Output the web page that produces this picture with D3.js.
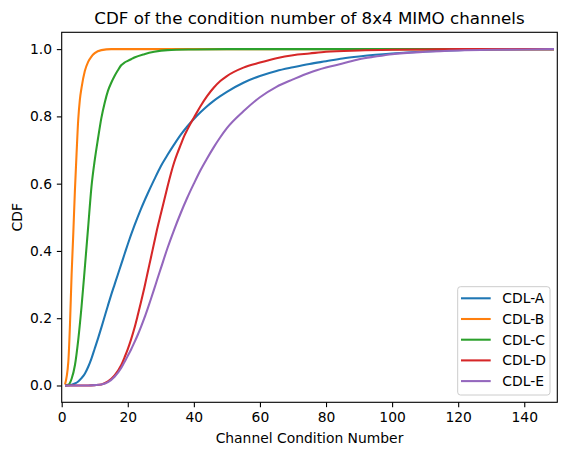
<!DOCTYPE html>
<html>
<head>
<meta charset="utf-8">
<script src="https://cdn.jsdelivr.net/npm/d3@7"></script>
<style>
  html, body { margin: 0; padding: 0; background: #fff; }
  svg { display: block; font-family: "DejaVu Sans", sans-serif; }
</style>
</head>
<body>
<svg id="chart" width="567" height="455"></svg>
<script>
// ---- Data ----
const seriesNames = ["CDL-A", "CDL-B", "CDL-C", "CDL-D", "CDL-E"];
const seriesColors = ["#1f77b4", "#ff7f0e", "#2ca02c", "#d62728", "#9467bd"];

const cdlA_x = [1,3,4,5,6,7,8,9,10,11,12,13,14,15,16,17,18,19,20,22,24,26,28,30,32,34,36,38,40,42,44,46,48,50,55,60,65,70,75,80,85,90,95,100,110,120,130,140,149];
const cdlA_y = [0,0.002,0.006,0.012,0.022,0.035,0.055,0.08,0.11,0.14,0.172,0.205,0.238,0.27,0.30,0.33,0.36,0.39,0.42,0.475,0.525,0.57,0.612,0.652,0.685,0.716,0.745,0.77,0.792,0.812,0.83,0.846,0.86,0.873,0.9,0.92,0.935,0.946,0.956,0.964,0.972,0.978,0.983,0.987,0.993,0.997,0.999,1.0,1.0];

const cdlB_x = [1,2,2.5,3,3.5,4,4.5,5,5.5,6,7,8,9,10,12,15,20,149];
const cdlB_y = [0.003,0.07,0.18,0.33,0.45,0.58,0.69,0.79,0.85,0.885,0.935,0.962,0.978,0.988,0.997,1.0,1.0,1.0];

const cdlC_x = [1,2,3,4,5,6,7,8,9,10,11,12,13,14,15,16,17,18,19,20,21,22,25,28,32,40,50,149];
const cdlC_y = [0,0.002,0.02,0.06,0.135,0.234,0.35,0.47,0.59,0.67,0.735,0.795,0.84,0.876,0.9,0.92,0.937,0.952,0.96,0.965,0.97,0.975,0.985,0.992,0.997,0.999,1.0,1.0];

const cdlD_x = [1,8,10,12,14,16,18,19,20,21,22,23,24,25,26,27,28,29,30,31,32,33,34,35,36,37,38,39,40,42,44,46,48,50,55,60,65,70,75,80,90,100,110,120,149];
const cdlD_y = [0,0,0.001,0.003,0.012,0.03,0.06,0.083,0.108,0.137,0.17,0.208,0.248,0.29,0.335,0.38,0.425,0.47,0.51,0.55,0.59,0.628,0.662,0.69,0.715,0.74,0.76,0.779,0.796,0.83,0.86,0.885,0.905,0.92,0.945,0.96,0.973,0.982,0.987,0.992,0.996,0.998,0.999,1.0,1.0];

const cdlE_x = [1,8,10,12,14,16,18,19,20,21,22,23,24,25,26,27,28,29,30,32,34,36,38,40,42,44,46,48,50,55,60,65,70,75,80,85,90,95,100,110,120,130,140,149];
const cdlE_y = [0,0,0.001,0.003,0.01,0.026,0.052,0.07,0.088,0.107,0.128,0.15,0.174,0.2,0.228,0.257,0.287,0.318,0.348,0.408,0.462,0.512,0.558,0.6,0.64,0.675,0.708,0.738,0.765,0.815,0.857,0.888,0.91,0.93,0.945,0.957,0.97,0.978,0.985,0.992,0.996,0.998,0.999,1.0];

const xTicks = [0, 20, 40, 60, 80, 100, 120, 140];
const yTicks = [0.0, 0.2, 0.4, 0.6, 0.8, 1.0];
const titleText = "CDF of the condition number of 8x4 MIMO channels";
const xLabelText = "Channel Condition Number";
const yLabelText = "CDF";

// ---- Build series ----
const xs = [cdlA_x, cdlB_x, cdlC_x, cdlD_x, cdlE_x];
const ys = [cdlA_y, cdlB_y, cdlC_y, cdlD_y, cdlE_y];
const series = seriesNames.map((name, i) => ({
  name, color: seriesColors[i],
  points: xs[i].map((x, j) => ({ x, y: ys[i][j] }))
}));

// ---- Layout ----
const L = 61.7, R = 557.3, T = 32.3, B = 402.3;
const fs = 13.89;
const svg = d3.select("#chart");

const x = d3.scaleLinear().domain([0, 150]).range([L, R]);
const y = d3.scaleLinear().domain([-0.05, 1.05]).range([B, T]);

svg.append("defs").append("clipPath").attr("id", "clip")
  .append("rect").attr("x", L).attr("y", T).attr("width", R - L).attr("height", B - T);

// lines
const line = d3.line().x(d => x(d.x)).y(d => y(d.y)).curve(d3.curveMonotoneX);
const g = svg.append("g").attr("clip-path", "url(#clip)");
series.forEach(s => {
  g.append("path").datum(s.points)
    .attr("d", line)
    .attr("fill", "none")
    .attr("stroke", s.color)
    .attr("stroke-width", 2.08)
    .attr("stroke-linejoin", "round")
    .attr("stroke-linecap", "butt");
});

// axes
const xAxis = d3.axisBottom(x).tickValues(xTicks).tickFormat(d3.format("d"))
  .tickSize(4.86).tickPadding(4.86);
const yAxis = d3.axisLeft(y).tickValues(yTicks).tickFormat(d3.format(".1f"))
  .tickSize(4.86).tickPadding(4.86);

const gx = svg.append("g").attr("transform", `translate(0,${B})`).call(xAxis);
const gy = svg.append("g").attr("transform", `translate(${L},0)`).call(yAxis);
[gx, gy].forEach(a => {
  a.select(".domain").remove();
  a.selectAll(".tick line").attr("stroke", "#000").attr("stroke-width", 1.1);
  a.selectAll(".tick text").attr("fill", "#000")
    .style("font-family", "DejaVu Sans").style("font-size", fs + "px");
});

// frame (spines)
svg.append("rect").attr("x", L).attr("y", T).attr("width", R - L).attr("height", B - T)
  .attr("fill", "none").attr("stroke", "#000").attr("stroke-width", 1.1);

// title and labels
svg.append("text").attr("x", (L + R) / 2).attr("y", 23.5)
  .attr("text-anchor", "middle").style("font-size", "16.67px").attr("fill", "#000")
  .text(titleText);
svg.append("text").attr("x", (L + R) / 2).attr("y", 442.5)
  .attr("text-anchor", "middle").style("font-size", fs + "px").attr("fill", "#000")
  .text(xLabelText);
svg.append("text").attr("transform", `translate(21.5,${(T + B) / 2}) rotate(-90)`)
  .attr("text-anchor", "middle").style("font-size", fs + "px").attr("fill", "#000")
  .text(yLabelText);

// legend
const lg = svg.append("g");
lg.append("rect").attr("x", 457.7).attr("y", 286.7).attr("width", 92.3).attr("height", 108.3)
  .attr("rx", 2.8).attr("fill", "#fff").attr("fill-opacity", 0.8)
  .attr("stroke", "#cccccc").attr("stroke-width", 1);
series.forEach((s, i) => {
  const cy = 298.3 + i * 20.7;
  lg.append("line").attr("x1", 461).attr("x2", 490.7).attr("y1", cy).attr("y2", cy)
    .attr("stroke", s.color).attr("stroke-width", 2.08);
  lg.append("text").attr("x", 502.3).attr("y", cy).attr("dy", "0.35em")
    .style("font-size", fs + "px").attr("fill", "#000").text(s.name);
});
</script>
</body>
</html>
